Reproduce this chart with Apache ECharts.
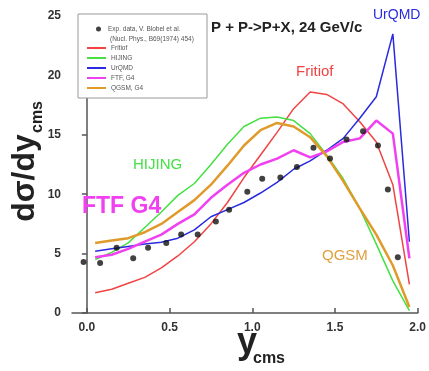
<!DOCTYPE html>
<html>
<head>
<meta charset="utf-8">
<script src="https://cdn.jsdelivr.net/npm/echarts@6/dist/echarts.min.js"></script>
<style>html,body{margin:0;padding:0;background:#fff}#c{width:429px;height:371px}</style>
</head>
<body>
<div id="c"></div>
<script>
// ---- data ----
var modelX = [0.05,0.15,0.25,0.35,0.45,0.55,0.65,0.75,0.85,0.95,1.05,1.15,1.25,1.35,1.45,1.55,1.65,1.75,1.85,1.95];
var fritiof = [1.7,2.0,2.5,3.0,3.8,4.8,6.0,7.5,9.3,11.4,13.3,15.2,17.2,18.6,18.4,17.6,16.1,14.4,10.8,2.4];
var hijing  = [4.5,5.1,5.9,7.2,8.5,9.9,10.9,12.5,14.2,15.7,16.4,16.5,16.2,15.1,13.3,11.3,8.8,5.8,2.7,0.2];
var urqmd   = [5.2,5.4,5.6,5.8,5.95,6.3,7.0,8.1,8.7,9.3,10.1,11.0,12.1,12.8,13.7,14.7,16.4,18.2,23.5,6.0];
var ftf     = [4.7,4.9,5.4,6.0,6.6,7.5,8.3,9.7,10.8,11.8,12.5,13.0,13.7,13.1,13.6,14.4,14.7,16.2,15.1,4.6];
var qgsm    = [5.9,6.1,6.3,6.8,7.5,8.5,9.5,10.8,12.4,14.1,15.4,16.0,15.7,14.8,13.2,11.1,8.8,6.6,4.0,0.5];
var expX = [-0.02,0.08,0.18,0.28,0.37,0.48,0.57,0.67,0.78,0.86,0.97,1.06,1.17,1.27,1.37,1.47,1.57,1.67,1.76,1.82,1.88];
var expY = [4.3,4.2,5.5,4.6,5.5,5.9,6.6,6.6,7.7,8.7,10.2,11.3,11.4,12.3,13.9,13.0,14.6,15.3,14.1,10.4,4.7];
var xTicks = [0,0.5,1,1.5,2];
var yTicks = [0,5,10,15,20,25];

function pairs(xs, ys){ return xs.map(function(x,i){ return [x, ys[i]]; }); }

var F = 'Liberation Sans, Arial, sans-serif';
var chart = echarts.init(document.getElementById('c'), null, {renderer:'canvas'});
function lineSeries(name, data, color, w){
  return {name:name, type:'line', data:pairs(modelX, data), showSymbol:false, symbol:'none',
    lineStyle:{color:color, width:w}, itemStyle:{color:color}, z:2, animation:false};
}
chart.setOption({
  animation:false,
  grid:{left:72, right:11, top:16, bottom:58},
  xAxis:{type:'value', min:-0.09, max:2.0,
    axisLine:{show:true, lineStyle:{color:'#555', width:1.5}},
    axisTick:{show:true, inside:true, length:5, customValues:xTicks, lineStyle:{color:'#555', width:1.5}},
    axisLabel:{customValues:xTicks, margin:9, color:'#333', fontWeight:'bold', fontSize:12, fontFamily:F,
      formatter:function(v){return v.toFixed(1);}},
    splitLine:{show:false}},
  yAxis:{type:'value', min:0, max:25,
    axisLine:{show:true, lineStyle:{color:'#555', width:1.5}},
    axisTick:{show:true, inside:false, length:5, customValues:yTicks, lineStyle:{color:'#555', width:1.5}},
    axisLabel:{customValues:yTicks, margin:11, color:'#333', fontWeight:'bold', fontSize:12, fontFamily:F},
    splitLine:{show:false}},
  legend:[
    {orient:'vertical', left:96, top:25, padding:0, itemWidth:9, itemHeight:5, itemGap:2,
      selectedMode:false,
      textStyle:{fontSize:6.5, color:'#555', fontFamily:F, lineHeight:8},
      data:[{name:'Exp. data, V. Blobel et al.', icon:'circle'}]},
    {orient:'vertical', left:87, top:44, padding:0, itemWidth:19, itemHeight:2, itemGap:2,
      selectedMode:false,
      textStyle:{fontSize:6.5, color:'#555', fontFamily:F, lineHeight:8},
      data:[{name:'Fritiof', icon:'rect'},{name:'HIJING', icon:'rect'},{name:'UrQMD', icon:'rect'},
            {name:'FTF, G4', icon:'rect'},{name:'QGSM, G4', icon:'rect'}]}
  ],
  graphic:[
    {type:'rect', shape:{x:78, y:14, width:129, height:84}, style:{fill:'#fff', stroke:'#999', lineWidth:1}, z:1},
    {type:'text', x:110, y:39, style:{text:'(Nucl. Phys., B69(1974) 454)', fontSize:6.5, fill:'#555', fontFamily:F, verticalAlign:'middle'}, z:10},
    {type:'text', x:211, y:28, style:{text:'P + P->P+X, 24 GeV/c', fontSize:15, fontWeight:'bold', fill:'#222', fontFamily:F, verticalAlign:'middle'}, z:10},
    {type:'text', x:373, y:15, style:{text:'UrQMD', fontSize:14, fill:'#2a2ae0', fontFamily:F, verticalAlign:'middle'}, z:10},
    {type:'text', x:296, y:72, style:{text:'Fritiof', fontSize:15, fill:'#f04444', fontFamily:F, verticalAlign:'middle'}, z:10},
    {type:'text', x:133, y:165, style:{text:'HIJING', fontSize:15, fill:'#44e044', fontFamily:F, verticalAlign:'middle'}, z:10},
    {type:'text', x:82, y:207, style:{text:'FTF G4', fontSize:23, fontWeight:'bold', fill:'#f040f0', fontFamily:F, verticalAlign:'middle'}, z:10},
    {type:'text', x:322, y:256, style:{text:'QGSM', fontSize:15, fill:'#e0a040', fontFamily:F, verticalAlign:'middle'}, z:10},
    {type:'text', x:25, y:178, rotation:Math.PI/2, style:{text:'dσ/dy', fontSize:32, fontWeight:'bold', fill:'#222', fontFamily:F, align:'center', verticalAlign:'middle'}, z:10},
    {type:'text', x:38, y:117, rotation:Math.PI/2, style:{text:'cms', fontSize:16, fontWeight:'bold', fill:'#222', fontFamily:F, align:'center', verticalAlign:'middle'}, z:10},
    {type:'text', x:247, y:343, style:{text:'y', fontSize:36, fontWeight:'bold', fill:'#222', fontFamily:F, align:'center', verticalAlign:'middle'}, z:10},
    {type:'text', x:269, y:359, style:{text:'cms', fontSize:16, fontWeight:'bold', fill:'#222', fontFamily:F, align:'center', verticalAlign:'middle'}, z:10}
  ],
  series:[
    {name:'Exp. data, V. Blobel et al.', type:'scatter', data:pairs(expX, expY), symbol:'circle', symbolSize:6,
      itemStyle:{color:'#111'}, z:5},
    lineSeries('Fritiof', fritiof, '#f04444', 1.5),
    lineSeries('HIJING', hijing, '#44e044', 1.5),
    lineSeries('UrQMD', urqmd, '#2a2ae0', 1.5),
    lineSeries('FTF, G4', ftf, '#f040f0', 2.5),
    lineSeries('QGSM, G4', qgsm, '#e09a2a', 2.5)
  ]
});
</script>
</body>
</html>
